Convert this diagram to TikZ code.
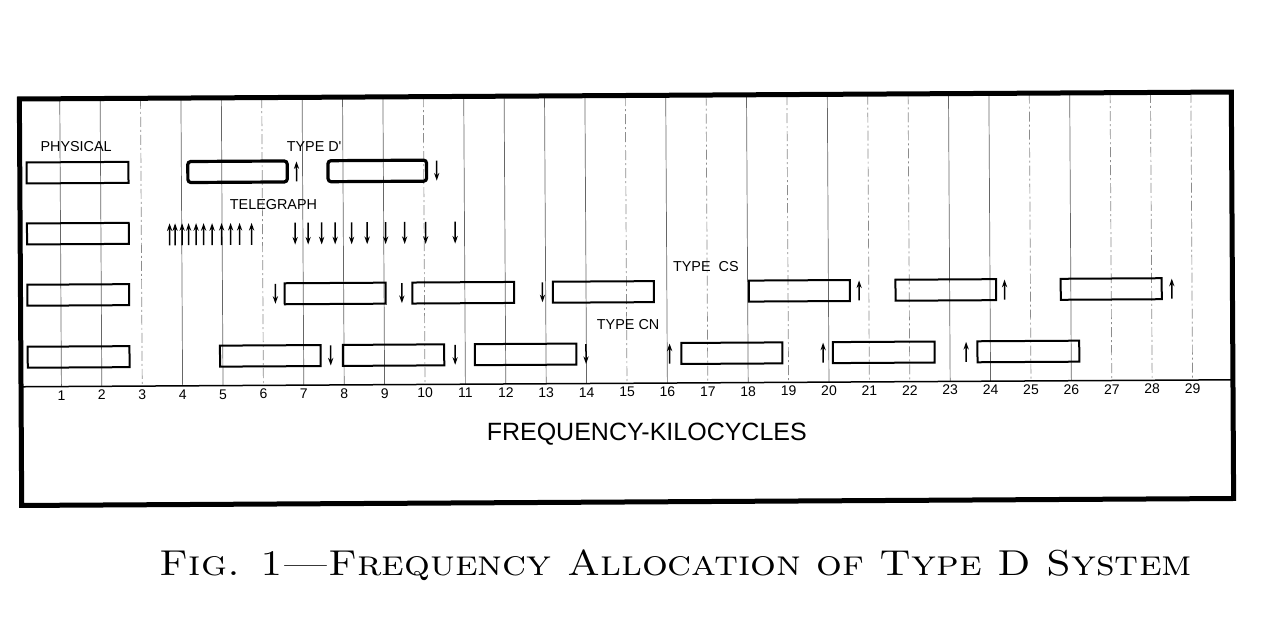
\documentclass[tikz,border=0pt]{standalone}
\usepackage{fontspec}
\newfontfamily\labfont{Liberation Sans}
\usetikzlibrary{arrows.meta}
\begin{document}
\begin{tikzpicture}[x=0.5pt,y=-0.5pt,
  declare function={kx(\f)=20.5+40.4*\f;},
  outerframe/.style={line width=2.5pt},
  gridsolid/.style={line width=0.35pt, black!60},
  griddash/.style={line width=0.35pt, black!45, dash pattern=on 5pt off 1.5pt on 1pt off 1.5pt},
  axisline/.style={line width=0.75pt},
  chbox/.style={line width=1pt},
  dbox/.style={line width=1.6pt, rounded corners=1.5pt},
  uarr/.style={line width=0.75pt, -{Stealth[length=3.8pt,width=2.6pt]}},
  rowlabel/.style={font=\labfont\fontsize{7.2}{8}\selectfont, inner sep=0pt},
  ticklabel/.style={font=\labfont\fontsize{7}{8}\selectfont, inner sep=0pt},
]
\useasboundingbox (0,0) rectangle (1280,624);
\fill[white] (0,0) rectangle (1280,624);
\begin{scope}[rotate around={0.33:(626,300)}]
  % grid
  \foreach \n in {1,2,4,5,7,8,9,11,12,13,14,16,18,20,23,24,26}
    \draw[gridsolid] ({kx(\n)},96) -- ({kx(\n)},383.3);
  \foreach \n in {3,6,10,15,17,19,21,22,25,27,28,29}
    \draw[griddash] ({kx(\n)},96) -- ({kx(\n)},383.3);
  % axis
  \draw[axisline] (20.5,383.3) -- (1232.5,383.3);
  % frame
  \draw[outerframe] (20.5,95.5) rectangle (1232.5,502);
  % physical boxes
  \foreach \y in {169.5,230.5,291.8,353.8}
    \draw[chbox] ({kx(0.17)},\y-10.5) rectangle ({kx(2.69)},\y+10.5);
  % row 1: type D'
  \foreach \a/\b in {4.16/6.62,7.63/10.07}
    \draw[dbox] ({kx(\a)},169.5-10.5) rectangle ({kx(\b)},169.5+10.5);
  \draw[uarr] ({kx(6.85)},169.5+10) -- ({kx(6.85)},169.5-10);
  \draw[uarr] ({kx(10.32)},169.5-10) -- ({kx(10.32)},169.5+10);
  % row 2: telegraph
  \foreach \x in {170,175.5,182.5,189,196.5,204,212.5,222,231,240,252}
    \draw[uarr] (\x,231.7+11) -- (\x,231.7-11);
  \foreach \x in {295.5,308.5,322,335.5,352,367.5,386,405,426,455.5}
    \draw[uarr] (\x,231.7-11) -- (\x,231.7+11);
  % row 3: type CS
  \foreach \a/\b in {6.54/9.04,9.7/12.22,13.18/15.68,18.03/20.53,21.66/24.15,25.75/28.25}
    \draw[chbox] ({kx(\a)},291.8-10.5) rectangle ({kx(\b)},291.8+10.5);
  \foreach \f in {6.31,9.44,12.92}
    \draw[uarr] ({kx(\f)},291.8-10) -- ({kx(\f)},291.8+10);
  \foreach \f in {20.76,24.36,28.5}
    \draw[uarr] ({kx(\f)},291.8+10) -- ({kx(\f)},291.8-10);
  % row 4: type CN
  \foreach \a/\b in {4.93/7.42,7.97/10.48,11.24/13.75,16.35/18.85,20.1/22.62,23.68/26.2}
    \draw[chbox] ({kx(\a)},353.8-10.5) rectangle ({kx(\b)},353.8+10.5);
  \foreach \f in {7.67,10.75,13.99}
    \draw[uarr] ({kx(\f)},353.8-10) -- ({kx(\f)},353.8+10);
  \foreach \f in {16.06,19.86,23.4}
    \draw[uarr] ({kx(\f)},353.8+10) -- ({kx(\f)},353.8-10);
  % labels
  \node[rowlabel] (physical) at (77,143.8) {PHYSICAL};
  \node[rowlabel] (typed) at (315,145) {TYPE D'};
  \node[rowlabel] (telegraph) at (274,203) {TELEGRAPH};
  \node[rowlabel] (typecs) at (706,267.5) {TYPE\ \ CS};
  \node[rowlabel] (typecn) at (628,325) {TYPE\ CN};
  \foreach \n in {1,...,29}
    \node[ticklabel] (t\n) at ({kx(\n)},392) {\n};
  \node[font=\labfont\fontsize{12.5}{14}\selectfont, inner sep=0pt] (xlabel) at (646,434) {FREQUENCY-KILOCYCLES};
\end{scope}
\node[font=\fontsize{18}{21}\selectfont\scshape\addfontfeature{FakeBold=0.8}, inner sep=0pt, xscale=1.13] (caption) at (676,565) {Fig. 1---Frequency Allocation of Type D System};
\end{tikzpicture}
\end{document}
